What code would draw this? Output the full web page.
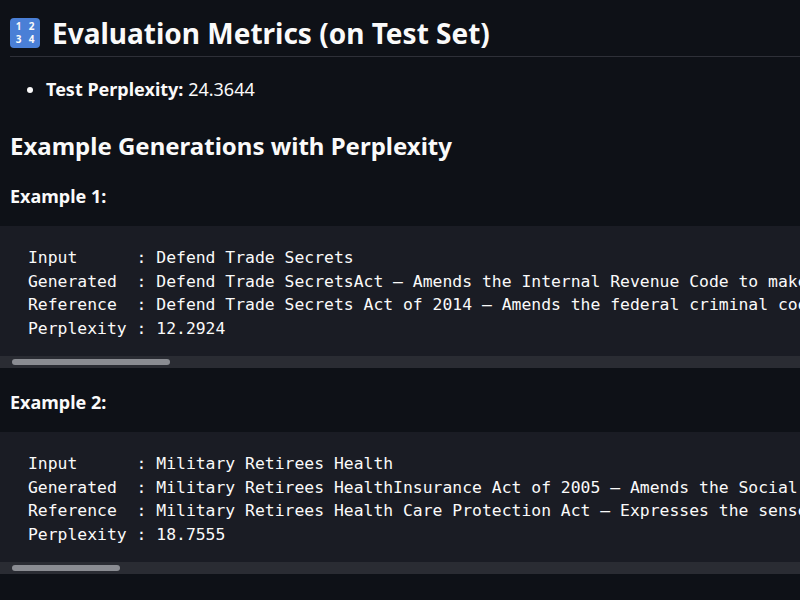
<!DOCTYPE html>
<html><head><meta charset="utf-8">
<script src="https://cdn.jsdelivr.net/npm/chart.js"></script>
<style>
body{margin:0;background:#0e1117;color:#fafafa;font-family:"Noto Sans",sans-serif;width:800px;height:600px;overflow:hidden}
.wrap{padding:0 0 0 10px}
h2{margin:0;padding-top:10px;font-size:28px;font-weight:700;height:46px;border-bottom:1px solid #2e3038;display:flex;align-items:center}
.emo{display:inline-grid;grid-template-columns:1fr 1fr;width:30px;height:30px;background:#4a7fd6;border-radius:4px;font-size:10px;line-height:13px;text-align:center;margin-right:12px;padding:2px;box-sizing:border-box;font-weight:700}
ul{margin:20px 0 0 0;padding-left:36px;font-size:18px}
h3{font-size:24px;margin:28px 0 0 0;font-weight:700}
h4{font-size:18px;margin:22px 0 0 0;font-weight:700}
pre{margin:18px 0 0 -10px;background:#1a1c24;font-family:"DejaVu Sans Mono",monospace;font-size:16.4px;line-height:23.5px;padding:20px 0 24px 28px;white-space:pre;overflow:hidden;position:relative;height:98px;color:#fafafa}
.sb{position:absolute;left:0;right:0;bottom:0;height:12px;background:#2a2c33}
.sb i{position:absolute;top:3px;left:12px;height:6px;border-radius:3px;background:#8a8c92}
</style></head><body><div class="wrap">
<h2><span class="emo"><span>1</span><span>2</span><span>3</span><span>4</span></span>Evaluation Metrics (on Test Set)</h2>
<ul><li><b>Test Perplexity:</b> <span id="tp"></span></li></ul>
<h3>Example Generations with Perplexity</h3>
<div id="ex"></div>
</div>
<script>
const testPerplexity = "24.3644";
const inputs = ["Defend Trade Secrets","Military Retirees Health"];
const generated = ["Defend Trade SecretsAct – Amends the Internal Revenue Code to make","Military Retirees HealthInsurance Act of 2005 – Amends the Social Security"];
const references = ["Defend Trade Secrets Act of 2014 – Amends the federal criminal code","Military Retirees Health Care Protection Act – Expresses the sense of"];
const perplexities = ["12.2924","18.7555"];
const thumbWidths = [158,108];
document.getElementById('tp').textContent = testPerplexity;
let h='';
inputs.forEach((inp,i)=>{
 h+=`<h4>Example ${i+1}:</h4><pre>Input      : ${inp}\nGenerated  : ${generated[i]}\nReference  : ${references[i]}\nPerplexity : ${perplexities[i]}<div class="sb"><i style="width:${thumbWidths[i]}px"></i></div></pre>`;
});
document.getElementById('ex').innerHTML=h;
</script></body></html>
